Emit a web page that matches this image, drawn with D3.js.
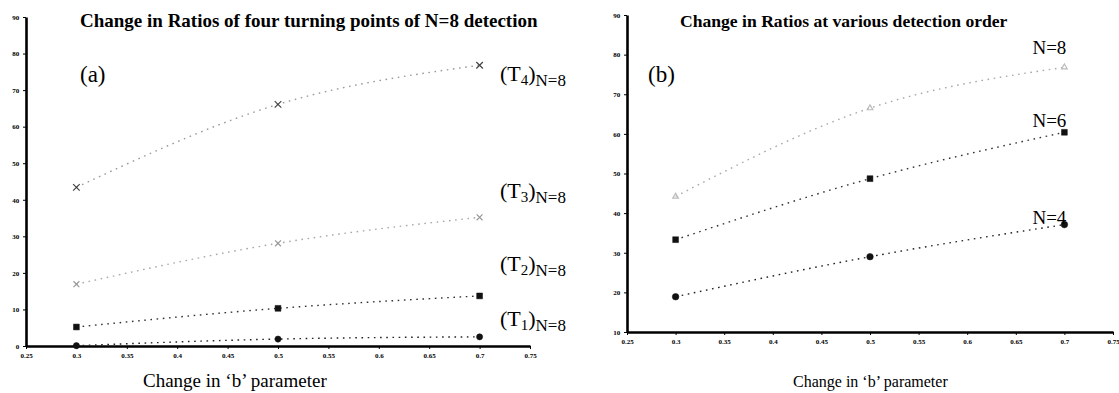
<!DOCTYPE html>
<html>
<head>
<meta charset="utf-8">
<script src="https://cdn.jsdelivr.net/npm/d3@7"></script>
<style>
  html, body { margin: 0; padding: 0; background: #fff; }
  svg { display: block; }
  text { font-family: "Liberation Serif", "DejaVu Serif", serif; fill: #000; }
  .tick text { font-size: 7px; font-weight: bold; }
</style>
</head>
<body>
<svg id="chart" width="1119" height="393"></svg>
<script>
// b parameter values at which the ratios were measured
const bValues = [0.3, 0.5, 0.7];

// (a) ratios of the four turning points, N=8 detection
const t1 = [0.1, 1.9, 2.5];
const t2 = [5.2, 10.3, 13.7];
const t3 = [16.9, 28.1, 35.2];
const t4 = [43.4, 66.1, 76.8];

// (b) ratios at various detection orders
const n4 = [18.9, 29.0, 37.1];
const n6 = [33.3, 48.7, 60.4];
const n8 = [44.2, 66.5, 76.8];

// axis ticks
const xTicks = [0.25, 0.3, 0.35, 0.4, 0.45, 0.5, 0.55, 0.6, 0.65, 0.7, 0.75];
const yTicksA = [0, 10, 20, 30, 40, 50, 60, 70, 80, 90];
const yTicksB = [10, 20, 30, 40, 50, 60, 70, 80, 90];

const svg = d3.select("#chart");

function panel(cfg) {
  const x = d3.scaleLinear().domain([0.25, 0.75]).range(cfg.xRange);
  const y = d3.scaleLinear().domain(cfg.yDomain).range(cfg.yRange);
  const g = svg.append("g");

  // axes
  const xa = g.append("g")
    .attr("transform", `translate(0,${cfg.yRange[0]})`)
    .call(d3.axisBottom(x).tickValues(xTicks).tickSize(3).tickSizeOuter(0)
      .tickFormat(d => d3.format("")(+d.toFixed(2))));
  const ya = g.append("g")
    .attr("transform", `translate(${cfg.xRange[0]},0)`)
    .call(d3.axisLeft(y).tickValues(cfg.yTicks).tickSize(3).tickSizeOuter(0));
  [xa, ya].forEach(a => {
    a.select(".domain").attr("stroke", "#000").attr("stroke-width", 2.6);
    a.selectAll(".tick line").attr("stroke", "#000").attr("stroke-width", 1);
  });
  xa.selectAll(".tick text").attr("dy", "0.9em");
  ya.selectAll(".tick text").attr("dx", "-0.1em");

  // series curves and markers
  const line = d3.line().curve(d3.curveNatural)
    .x((d, i) => x(bValues[i])).y(d => y(d));
  cfg.series.forEach(s => {
    g.append("path").datum(s.values)
      .attr("d", line)
      .attr("fill", "none")
      .attr("stroke", s.color)
      .attr("stroke-width", 1.4)
      .attr("stroke-dasharray", "1.6 4.6");
    const sym = d3.symbol().type(s.symbol).size(s.size);
    g.selectAll(null).data(s.values).join("path")
      .attr("transform", (d, i) => `translate(${x(bValues[i])},${y(d)})`)
      .attr("d", sym)
      .attr("fill", s.filled ? s.markColor : "none")
      .attr("stroke", s.markColor)
      .attr("stroke-width", s.filled ? 0.5 : 1.2);
  });

  // title and panel tag
  g.append("text")
    .attr("x", cfg.titleX).attr("y", 27)
    .attr("font-size", cfg.titleSize).attr("font-weight", "bold")
    .text(cfg.title);
  g.append("text")
    .attr("x", cfg.tagX).attr("y", 82)
    .attr("font-size", 23)
    .text(cfg.tag);

  // x axis title
  g.append("text")
    .attr("x", cfg.xTitleX).attr("y", 387)
    .attr("font-size", cfg.xTitleSize)
    .text("Change in \u2018b\u2019 parameter");

  return { g, x, y };
}

// (a)
const pa = panel({
  xRange: [26, 530], yDomain: [0, 90], yRange: [346, 17], yTicks: yTicksA,
  title: "Change in Ratios of four turning points of N=8 detection",
  titleX: 80, titleSize: 19, tag: "(a)", tagX: 80, xTitleX: 143, xTitleSize: 19,
  series: [
    { values: t4, color: "#9a9a9a", markColor: "#444", symbol: d3.symbolTimes, size: 30 },
    { values: t3, color: "#a8a8a8", markColor: "#999", symbol: d3.symbolTimes, size: 24 },
    { values: t2, color: "#333", markColor: "#111", symbol: d3.symbolSquare, size: 34, filled: true },
    { values: t1, color: "#222", markColor: "#111", symbol: d3.symbolCircle, size: 30, filled: true }
  ]
});

// turning point labels, (T_k) with N=8 subscript
const tLabels = [
  { k: "4", y: 81 }, { k: "3", y: 198 }, { k: "2", y: 271 }, { k: "1", y: 326 }
];
tLabels.forEach(l => {
  const t = pa.g.append("text").attr("x", 500).attr("y", l.y).attr("font-size", 22);
  t.append("tspan").text("(T");
  t.append("tspan").attr("font-size", 15).attr("dy", 4).text(l.k);
  t.append("tspan").attr("dy", -4).text(")");
  t.append("tspan").attr("font-size", 17).attr("dy", 5).text("N=8");
});

// (b)
const pb = panel({
  xRange: [627, 1113], yDomain: [10, 90], yRange: [332, 15], yTicks: yTicksB,
  title: "Change in Ratios at various detection order",
  titleX: 680, titleSize: 17.6, tag: "(b)", tagX: 648, xTitleX: 793, xTitleSize: 16,
  series: [
    { values: n8, color: "#a8a8a8", markColor: "#bbb", symbol: d3.symbolTriangle, size: 14 },
    { values: n6, color: "#333", markColor: "#111", symbol: d3.symbolSquare, size: 34, filled: true },
    { values: n4, color: "#222", markColor: "#111", symbol: d3.symbolCircle, size: 34, filled: true }
  ]
});

const nLabels = [
  { t: "N=8", v: n8, dy: -13 }, { t: "N=6", v: n6, dy: -5 }, { t: "N=4", v: n4, dy: -1 }
];
nLabels.forEach(l => {
  pb.g.append("text")
    .attr("x", pb.x(0.7) - 15).attr("y", pb.y(l.v[2]) + l.dy)
    .attr("text-anchor", "middle")
    .attr("font-size", 19)
    .text(l.t);
});
</script>
</body>
</html>
